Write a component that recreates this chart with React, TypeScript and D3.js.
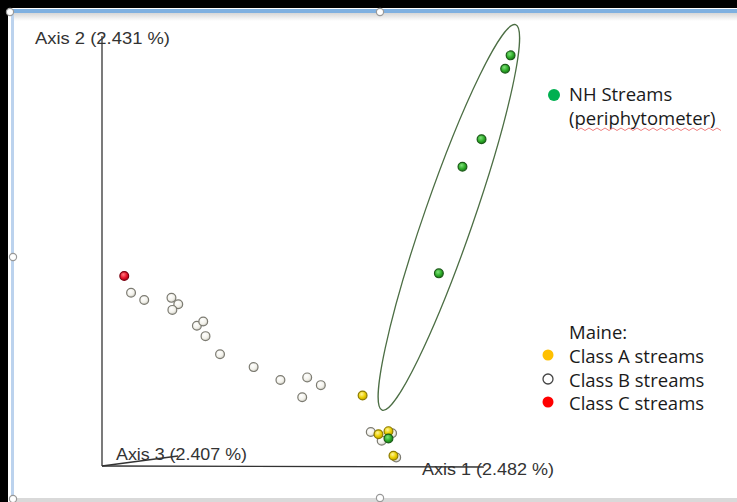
import React, { useEffect } from 'react';
import * as d3 from 'd3';

const W = 737;
const H = 502;

// PCoA scores: [Axis 1, Axis 2]
const classB = [
  [-0.436, -0.097], [-0.407, -0.114], [-0.347, -0.109], [-0.332, -0.124],
  [-0.345, -0.137], [-0.291, -0.174], [-0.277, -0.164], [-0.272, -0.198],
  [-0.240, -0.240], [-0.166, -0.270], [-0.107, -0.300], [-0.048, -0.294],
  [-0.018, -0.312], [-0.059, -0.340],
  [0.092, -0.421], [0.139, -0.424], [0.116, -0.441], [0.148, -0.480],
];
const classA = [[0.074, -0.336], [0.109, -0.426], [0.131, -0.419], [0.142, -0.476]];
const classC = [[-0.451, -0.058]];
const nhStreams = [
  [0.400, 0.455], [0.388, 0.424], [0.336, 0.260], [0.294, 0.196],
  [0.242, -0.052], [0.131, -0.436],
];

const axisLabels = ['Axis 1 (2.482 %)', 'Axis 2 (2.431 %)', 'Axis 3 (2.407 %)'];
const nhLegend = ['NH Streams', '(periphytometer)'];
const maineTitle = 'Maine:';
const maineLegend = ['Class A streams', 'Class B streams', 'Class C streams'];

export default function App() {
  useEffect(() => {
    document.body.style.margin = '0';
    document.body.style.background = '#fff';
  }, []);

  const x = d3.scaleLinear().domain([-0.5, 0.5]).range([102, 556]);
  const y = d3.scaleLinear().domain([-0.5, 0.5]).range([466, 36]);
  const ox = x(-0.5);
  const oy = y(-0.5);

  // NH group ellipse
  const ecx = x(0.264);
  const ecy = y(0.078);

  const dot = (d: number[], i: number, fill: string, stroke: string) => (
    <circle key={i} cx={x(d[0])} cy={y(d[1])} r={4.4} fill={fill} stroke={stroke} strokeWidth={1.2} />
  );

  return (
    <svg width={W} height={H} style={{ position: 'fixed', left: 0, top: 0, display: 'block', background: '#fff' }}>
      <defs>
        <radialGradient id="gw" cx="40%" cy="35%" r="65%">
          <stop offset="0%" stopColor="#ffffff" />
          <stop offset="65%" stopColor="#f2f1ea" />
          <stop offset="100%" stopColor="#c9c8bf" />
        </radialGradient>
        <radialGradient id="gy" cx="40%" cy="35%" r="65%">
          <stop offset="0%" stopColor="#fff59a" />
          <stop offset="60%" stopColor="#ecd000" />
          <stop offset="100%" stopColor="#c2a400" />
        </radialGradient>
        <radialGradient id="gg" cx="40%" cy="35%" r="65%">
          <stop offset="0%" stopColor="#7fe07a" />
          <stop offset="60%" stopColor="#2fae2a" />
          <stop offset="100%" stopColor="#1a7a18" />
        </radialGradient>
        <radialGradient id="gr" cx="40%" cy="35%" r="65%">
          <stop offset="0%" stopColor="#ff7a80" />
          <stop offset="60%" stopColor="#e8142a" />
          <stop offset="100%" stopColor="#b00018" />
        </radialGradient>
        <linearGradient id="shade" x1="0" y1="0" x2="0" y2="1">
          <stop offset="0%" stopColor="#d6d6d6" />
          <stop offset="100%" stopColor="#ffffff" />
        </linearGradient>
      </defs>

      {/* window frame */}
      <rect x={0} y={0} width={W} height={8} fill="#000000" />
      <rect x={0} y={0} width={8} height={H} fill="#000000" />
      <rect x={9} y={9} width={W - 9} height={4} fill="#7fb0e0" />
      <rect x={14} y={13} width={W - 14} height={8} fill="url(#shade)" />
      <rect x={11} y={12} width={3} height={H - 12} fill="#bcd3ee" />
      <rect x={13} y={498} width={W - 13} height={4} fill="#d9d9d9" />
      {[[10, 12], [380, 12], [13, 257], [13, 499], [380, 498]].map((p, i) => (
        <circle key={i} cx={p[0]} cy={p[1]} r={3.6} fill="#fff" stroke="#999" strokeWidth={1.2} />
      ))}

      {/* axes */}
      <g stroke="#333" strokeWidth={1.3} fill="none">
        <line x1={ox} y1={oy} x2={ox} y2={y(0.5)} />
        <line x1={ox} y1={oy} x2={x(0.341)} y2={oy + 1} />
        <line x1={ox} y1={oy} x2={178} y2={456} />
      </g>
      <g fontFamily="'Liberation Sans', Arial, sans-serif" fontSize={17} fill="#333">
        <text x={422} y={475} textLength={132} lengthAdjust="spacingAndGlyphs">{axisLabels[0]}</text>
        <text x={35} y={44} textLength={135} lengthAdjust="spacingAndGlyphs">{axisLabels[1]}</text>
        <text x={116} y={460} textLength={131} lengthAdjust="spacingAndGlyphs">{axisLabels[2]}</text>
      </g>

      {/* ellipse around NH streams */}
      <ellipse cx={ecx} cy={ecy} rx={204} ry={24.6} fill="none" stroke="#4c6e44" strokeWidth={1.3}
        transform={`rotate(-70.9 ${ecx} ${ecy})`} />

      {/* points */}
      <g>{classB.map((d, i) => dot(d, i, 'url(#gw)', '#7c7b72'))}</g>
      <g>{classC.map((d, i) => dot(d, i, 'url(#gr)', '#7a0010'))}</g>
      <g>{classA.map((d, i) => dot(d, i, 'url(#gy)', '#8c7a00'))}</g>
      <g>{nhStreams.map((d, i) => dot(d, i, 'url(#gg)', '#1b5a18'))}</g>

      {/* legends */}
      <g fontFamily="'Open Sans', 'Noto Sans', sans-serif" fontSize={18.5} fill="#1a1a1a">
        <circle cx={554} cy={95} r={6} fill="#00b050" />
        {nhLegend.map((t, i) => (
          <text key={t} x={569} y={101 + i * 23.5}>{t}</text>
        ))}
        <path d={d3.range(0, 37).map(k => `${k === 0 ? 'M' : 'L'}${577 + k * 4},${k % 2 ? 128 : 130.5}`).join('')}
          fill="none" stroke="#f08080" strokeWidth={1} />
        <text x={569} y={339}>{maineTitle}</text>
        {maineLegend.map((t, i) => (
          <text key={t} x={569} y={363 + i * 23.5}>{t}</text>
        ))}
        <circle cx={548} cy={355} r={5.5} fill="#ffc000" />
        <circle cx={548} cy={379} r={5} fill="#fff" stroke="#444" strokeWidth={1.3} />
        <circle cx={548} cy={402} r={5.5} fill="#ff0000" />
      </g>
    </svg>
  );
}
